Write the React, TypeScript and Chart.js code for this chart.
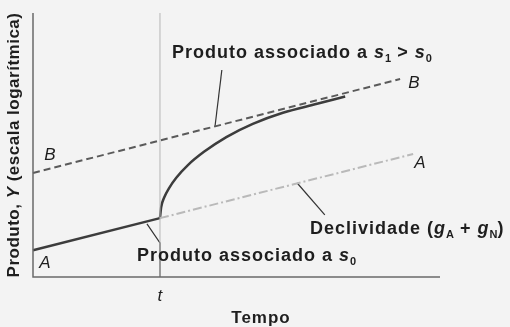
import React, { useEffect, useRef } from "react";
import { Chart, registerables } from "chart.js";

Chart.register(...registerables);

// ---- data (x = time units, y = log output units) ----
const tTime = 31.2;
const aSolidX = [0, 31.2];
const aSolidY = [10.1, 22.3];
const aDashX = [31.2, 93.4];
const aDashY = [22.3, 46.6];
const bX = [0, 90.2];
const bY = [39.4, 75];
const curveX = [31.2, 31.5, 32.2, 33.4, 35.2, 38.0, 42.0, 47.5, 54.0, 61.4, 69.8, 76.7];
const curveY = [22.3, 26.5, 30.0, 33.6, 37.6, 42.3, 47.4, 53.0, 58.0, 62.2, 65.6, 68.4];
const leaderS1X = [46.4, 44.7];
const leaderS1Y = [78.4, 56.8];
const leaderSlopeX = [64.9, 71.7];
const leaderSlopeY = [35.6, 23.5];
const leaderS0X = [28.0, 31.2, 31.2];
const leaderS0Y = [20.1, 12.9, 0];

const pts = (xs: number[], ys: number[]) => xs.map((x, i) => ({ x, y: ys[i] }));

type Seg = { text: string; italic?: boolean; sub?: boolean };

const FONT = '"Liberation Sans", Arial, sans-serif';

function drawRich(ctx: any, x: number, y: number, segs: Seg[], size: number, spacing: number) {
  let cx = x;
  ctx.textBaseline = "alphabetic";
  ctx.textAlign = "left";
  for (const s of segs) {
    const sz = s.sub ? Math.round(size * 0.6) : size;
    ctx.font = `${s.italic ? "italic " : ""}bold ${sz}px ${FONT}`;
    ctx.letterSpacing = `${s.sub ? 0 : spacing}px`;
    const dy = s.sub ? size * 0.22 : 0;
    ctx.fillText(s.text, cx, y + dy);
    cx += ctx.measureText(s.text).width;
  }
  ctx.letterSpacing = "0px";
}

function drawRichMiddle(ctx: any, x: number, y: number, segs: Seg[], size: number, spacing: number) {
  let cx = x;
  ctx.textAlign = "left";
  ctx.textBaseline = "middle";
  ctx.letterSpacing = `${spacing}px`;
  for (const s of segs) {
    ctx.font = `${s.italic ? "italic " : ""}bold ${size}px ${FONT}`;
    ctx.fillText(s.text, cx, y);
    cx += ctx.measureText(s.text).width;
  }
  ctx.letterSpacing = "0px";
}

function richWidth(ctx: any, segs: Seg[], size: number, spacing: number) {
  let total = 0;
  ctx.letterSpacing = `${spacing}px`;
  for (const s of segs) {
    ctx.font = `${s.italic ? "italic " : ""}bold ${size}px ${FONT}`;
    total += ctx.measureText(s.text).width;
  }
  ctx.letterSpacing = "0px";
  return total;
}

const annotations = {
  id: "annotations",
  beforeDraw(chart: any) {
    const { ctx, width, height } = chart;
    ctx.save();
    ctx.fillStyle = "#f3f3f3";
    ctx.fillRect(0, 0, width, height);
    ctx.restore();
  },
  afterDraw(chart: any) {
    const { ctx, chartArea } = chart;
    const xs = chart.scales.x;
    ctx.save();
    // axes
    ctx.strokeStyle = "#6a6a6a";
    ctx.lineWidth = 1.5;
    ctx.beginPath();
    ctx.moveTo(chartArea.left, chartArea.top);
    ctx.lineTo(chartArea.left, chartArea.bottom);
    ctx.lineTo(chartArea.right, chartArea.bottom);
    ctx.stroke();

    ctx.fillStyle = "#1e1e1e";
    // t tick label
    ctx.font = `italic 17px ${FONT}`;
    ctx.textAlign = "center";
    ctx.textBaseline = "middle";
    ctx.fillText("t", xs.getPixelForValue(tTime), chartArea.bottom + 19);

    // x title
    ctx.font = `bold 17px ${FONT}`;
    ctx.letterSpacing = "1px";
    ctx.fillText("Tempo", 261, 318);
    ctx.letterSpacing = "0px";

    // y title (rotated)
    ctx.save();
    ctx.translate(14, 145);
    ctx.rotate(-Math.PI / 2);
    const parts: Seg[] = [{ text: "Produto, " }, { text: "Y", italic: true }, { text: " (escala logarítmica)" }];
    const total = richWidth(ctx, parts, 17, 0.5);
    drawRichMiddle(ctx, -total / 2, 0, parts, 17, 0.5);
    ctx.restore();

    // curve labels
    ctx.font = `italic 17px ${FONT}`;
    ctx.textAlign = "center";
    ctx.textBaseline = "middle";
    ctx.fillText("B", 50, 155);
    ctx.fillText("B", 414, 83);
    ctx.fillText("A", 45, 263);
    ctx.fillText("A", 420, 163);

    // annotation texts
    drawRich(ctx, 172, 58, [
      { text: "Produto associado a " },
      { text: "s", italic: true },
      { text: "1", sub: true },
      { text: " > " },
      { text: "s", italic: true },
      { text: "0", sub: true },
    ], 18, 1);
    drawRich(ctx, 310, 234, [
      { text: "Declividade (" },
      { text: "g", italic: true },
      { text: "A", sub: true },
      { text: " + " },
      { text: "g", italic: true },
      { text: "N", sub: true },
      { text: ")" },
    ], 18, 1);
    drawRich(ctx, 137, 261, [
      { text: "Produto associado a " },
      { text: "s", italic: true },
      { text: "0", sub: true },
    ], 18, 1);
    ctx.restore();
  },
};

export default function App() {
  const ref = useRef<HTMLCanvasElement | null>(null);
  useEffect(() => {
    if (!ref.current) return;
    const lineDs = (data: any[], color: string, width: number, extra: any = {}) => ({
      data,
      borderColor: color,
      borderWidth: width,
      showLine: true,
      pointRadius: 0,
      fill: false,
      clip: false,
      ...extra,
    });
    const chart = new Chart(ref.current, {
      type: "scatter",
      data: {
        datasets: [
          lineDs(pts([tTime, tTime], [0, 100]), "#b5b5b5", 1),
          lineDs(pts(aDashX, aDashY), "#b9b9b9", 2, { borderDash: [9, 3, 2, 3] }),
          lineDs(pts(bX, bY), "#5a5a5a", 2, { borderDash: [7, 4] }),
          lineDs(pts(aSolidX, aSolidY), "#3c3c3c", 2.5),
          lineDs(pts(curveX, curveY), "#3c3c3c", 2.5, { cubicInterpolationMode: "monotone" }),
          lineDs(pts(leaderS1X, leaderS1Y), "#333", 1.2),
          lineDs(pts(leaderSlopeX, leaderSlopeY), "#333", 1.2),
          lineDs(pts(leaderS0X, leaderS0Y), "#333", 1.2),
        ],
      },
      options: {
        animation: false,
        responsive: false,
        maintainAspectRatio: false,
        devicePixelRatio: 1,
        layout: { padding: { left: 33, top: 13, right: 70, bottom: 50 } },
        scales: {
          x: { type: "linear", min: 0, max: 100, display: false },
          y: { type: "linear", min: 0, max: 100, display: false },
        },
        plugins: { legend: { display: false }, tooltip: { enabled: false } },
      },
      plugins: [annotations],
    });
    return () => chart.destroy();
  }, []);
  return (
    <div style={{ position: "fixed", left: 0, top: 0, width: 510, height: 327 }}>
      <canvas ref={ref} width={510} height={327} style={{ width: 510, height: 327, display: "block" }} />
    </div>
  );
}
